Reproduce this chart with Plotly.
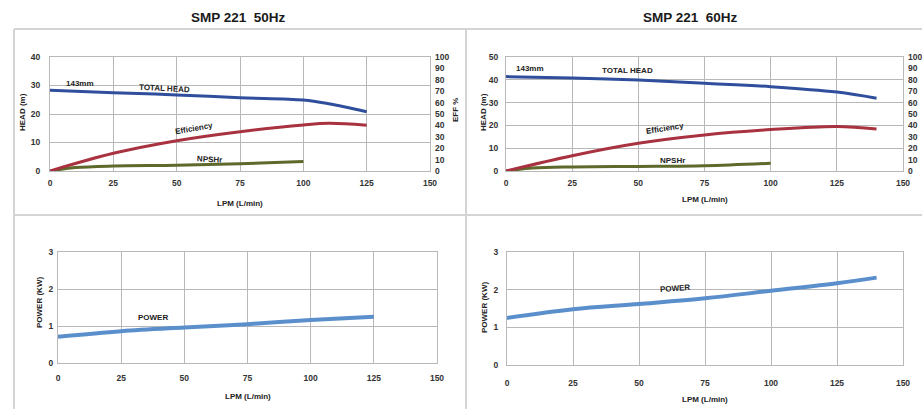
import plotly.graph_objects as go

# ---------------- data ----------------
flow_50 = [0, 25, 50, 75, 100, 110, 125]
head_50 = [28.3, 27.5, 26.7, 25.7, 24.9, 23.6, 20.8]
eff_50 = [0, 15.5, 26.6, 34.5, 40.4, 41.8, 40.2]

flow_npsh = [0, 10, 25, 50, 75, 100]
npsh_50 = [0, 1.2, 1.75, 2.0, 2.5, 3.3]
npsh_60 = [0, 1.3, 1.8, 2.0, 2.3, 3.4]

flow_pw_50 = [0, 25, 50, 75, 100, 125]
power_50 = [0.71, 0.86, 0.96, 1.05, 1.16, 1.25]

flow_60 = [0, 25, 50, 75, 100, 125, 140]
head_60 = [41.4, 40.8, 39.9, 38.5, 37.0, 34.6, 31.9]
eff_60 = [0, 13.4, 24.3, 31.6, 36.3, 39.0, 36.8]
power_60 = [1.25, 1.48, 1.62, 1.77, 1.97, 2.17, 2.32]

x_ticks = [0, 25, 50, 75, 100, 125, 150]
titles = ["SMP 221  50Hz", "SMP 221  60Hz"]

# ---------------- style ----------------
W, H = 922, 409
FONT = "Liberation Sans, Arial, sans-serif"
C_HEAD = "#2f4f9c"
C_EFF = "#a8323f"
C_NPSH = "#5d6a2c"
C_PW = "#5b8fcb"
GRID = "#b8b8b8"
TICKC = "#333333"


def px(x):
    return x / W


def py(y):
    return 1 - y / H


fig = go.Figure()

# top-left
fig.add_trace(go.Scatter(x=flow_50, y=head_50, mode="lines", line=dict(color=C_HEAD, width=3, shape="spline"), xaxis="x", yaxis="y"))
fig.add_trace(go.Scatter(x=flow_50, y=eff_50, mode="lines", line=dict(color=C_EFF, width=3, shape="spline"), xaxis="x", yaxis="y2"))
fig.add_trace(go.Scatter(x=flow_npsh, y=npsh_50, mode="lines", line=dict(color=C_NPSH, width=3, shape="spline"), xaxis="x", yaxis="y"))
# top-right
fig.add_trace(go.Scatter(x=flow_60, y=head_60, mode="lines", line=dict(color=C_HEAD, width=3, shape="spline"), xaxis="x2", yaxis="y3"))
fig.add_trace(go.Scatter(x=flow_60, y=eff_60, mode="lines", line=dict(color=C_EFF, width=3, shape="spline"), xaxis="x2", yaxis="y4"))
fig.add_trace(go.Scatter(x=flow_npsh, y=npsh_60, mode="lines", line=dict(color=C_NPSH, width=3, shape="spline"), xaxis="x2", yaxis="y3"))
# bottom
fig.add_trace(go.Scatter(x=flow_pw_50, y=power_50, mode="lines", line=dict(color=C_PW, width=4, shape="spline"), xaxis="x3", yaxis="y5"))
fig.add_trace(go.Scatter(x=flow_60, y=power_60, mode="lines", line=dict(color=C_PW, width=4, shape="spline"), xaxis="x4", yaxis="y6"))

tickfont = dict(family=FONT, size=8.5, color=TICKC, weight="bold")


def xax(dom, anchor, standoff):
    return dict(domain=dom, anchor=anchor, range=[0, 150], tickvals=x_ticks, showgrid=True,
                gridcolor=GRID, gridwidth=1, showline=True, linecolor=GRID, linewidth=1, mirror=True,
                zeroline=False, ticks="", tickfont=tickfont, automargin=False, ticklabelstandoff=standoff)


def yax(dom, anchor, rng, dtick, standoff):
    return dict(domain=dom, anchor=anchor, range=rng, dtick=dtick, showgrid=True, gridcolor=GRID,
                gridwidth=1, showline=True, linecolor=GRID, linewidth=1, mirror=True,
                zeroline=False, ticks="", tickfont=tickfont, automargin=False, ticklabelstandoff=standoff)


def yright(over, anchor):
    return dict(overlaying=over, side="right", anchor=anchor, range=[0, 100], dtick=10, showgrid=False,
                zeroline=False, ticks="", tickfont=tickfont, showline=False, automargin=False,
                ticklabelstandoff=4)


top_dom = [py(171), py(57)]
fig.update_layout(
    template="none",
    width=W, height=H, margin=dict(l=0, r=0, t=0, b=0, autoexpand=False),
    paper_bgcolor="white", plot_bgcolor="white", showlegend=False,
    font=dict(family=FONT, color=TICKC),
    xaxis=xax([px(50), px(430)], "y", 4),
    yaxis=yax(top_dom, "x", [0, 40], 10, 7),
    yaxis2=yright("y", "x"),
    xaxis2=xax([px(506), px(903)], "y3", 4),
    yaxis3=yax(top_dom, "x2", [0, 50], 10, 5),
    yaxis4=yright("y3", "x2"),
    xaxis3=xax([px(58), px(437)], "y5", 7),
    yaxis5=yax([py(363), py(252)], "x3", [0, 3], 1, 2),
    xaxis4=xax([px(507), px(903)], "y6", 10),
    yaxis6=yax([py(365), py(252)], "x4", [0, 3], 1, 6),
)

ann = []


def label(x, y, text, size=8, angle=0, xref="paper", yref="paper", color="#222"):
    ann.append(dict(x=x, y=y, xref=xref, yref=yref, text="<b>%s</b>" % text, showarrow=False,
                    xanchor="center", yanchor="middle",
                    textangle=angle, font=dict(family=FONT, size=size, color=color)))


# titles
label(px(238), py(17), titles[0], size=13.5, color="#1a1a1a")
label(px(690), py(17), titles[1], size=13.5, color="#1a1a1a")
# axis titles
label(px(23), py(112), "HEAD (m)", angle=-90)
label(px(455), py(110), "EFF %", angle=-90)
label(px(240), py(203), "LPM (L/min)")
label(px(484), py(112), "HEAD (m)", angle=-90)
label(px(705), py(199), "LPM (L/min)")
label(px(39), py(303), "POWER (KW)", angle=-90)
label(px(248), py(396), "LPM (L/min)")
label(px(484), py(308), "POWER (KW)", angle=-90)
label(px(705), py(399), "LPM (L/min)")

# curve labels (data coordinates)
label(12, 30.6, "143mm", xref="x", yref="y")
label(45, 29.0, "TOTAL HEAD", angle=3, xref="x", yref="y")
label(57, 14.9, "Efficiency", angle=-10, xref="x", yref="y")
label(63, 4.2, "NPSHr", angle=3, xref="x", yref="y")
label(9, 44.8, "143mm", xref="x2", yref="y3")
label(46, 44.0, "TOTAL HEAD", xref="x2", yref="y3")
label(60, 18.5, "Efficiency", angle=-9, xref="x2", yref="y3")
label(63, 4.8, "NPSHr", xref="x2", yref="y3")
label(37.5, 1.22, "POWER", xref="x3", yref="y5")
label(63.5, 2.04, "POWER", angle=-4, xref="x4", yref="y6")

fig.update_layout(annotations=ann)

# panel borders
BORDER = "#d4d4d4"
shapes = [
    dict(type="line", xref="paper", yref="paper", x0=px(14), x1=1, y0=py(29), y1=py(29)),
    dict(type="line", xref="paper", yref="paper", x0=px(14), x1=1, y0=py(215), y1=py(215)),
    dict(type="line", xref="paper", yref="paper", x0=px(14), x1=px(14), y0=py(29), y1=0),
    dict(type="line", xref="paper", yref="paper", x0=px(466), x1=px(466), y0=py(29), y1=0),
]
for s in shapes:
    s["line"] = dict(color=BORDER, width=2)
fig.update_layout(shapes=shapes)

fig.write_html("out.html", config={"displayModeBar": False},
               post_script="document.body.style.margin='0';document.body.style.overflow='hidden';")
